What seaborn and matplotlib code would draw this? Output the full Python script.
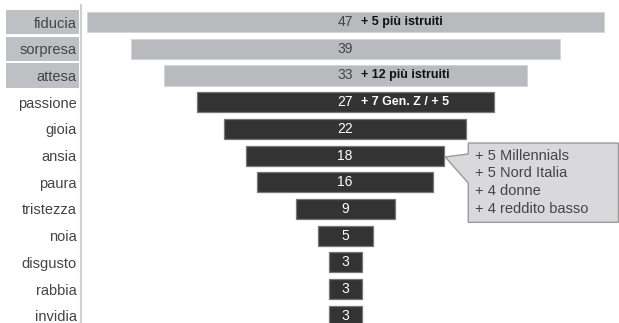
import matplotlib
matplotlib.use("Agg")
import matplotlib.pyplot as plt
import matplotlib.transforms as mtransforms
from matplotlib.patches import Rectangle, Polygon
import seaborn as sns
import pandas as pd

# Emotions and their share (%)
emotions = ["fiducia", "sorpresa", "attesa", "passione", "gioia", "ansia",
            "paura", "tristezza", "noia", "disgusto", "rabbia", "invidia"]
values = [47, 39, 33, 27, 22, 18, 16, 9, 5, 3, 3, 3]
highlighted = ["fiducia", "sorpresa", "attesa"]

# Extra notes written next to some values
notes = {"fiducia": "+ 5 più istruiti",
         "attesa": "+ 12 più istruiti",
         "passione": "+ 7 Gen. Z / + 5"}
callout_lines = ["+ 5 Millennials", "+ 5 Nord Italia", "+ 4 donne", "+ 4 reddito basso"]
callout_target = "ansia"

LIGHT = "#b9babe"
DARK = "#333333"
TEXT = "#444444"

df = pd.DataFrame({"emozione": emotions, "valore": values})
colors = [LIGHT if e in highlighted else DARK for e in emotions]

sns.set_theme(style="white")
plt.rcParams["font.family"] = ["Liberation Sans", "DejaVu Sans"]

W, H = 619, 323
fig = plt.figure(figsize=(W / 100, H / 100), dpi=100)
ax = fig.add_axes([81 / W, 0, 1 - 81 / W, 1 - 5 / H])

sns.barplot(data=df, x="valore", y="emozione", hue="emozione",
            palette=colors, orient="h", width=0.75, legend=False,
            saturation=1, ax=ax)

# centre every bar on zero to form the funnel
for patch, e in zip(ax.patches, emotions):
    w = patch.get_width()
    patch.set_x(-w / 2)
    if e in highlighted:
        patch.set_edgecolor("#d4d4d8")
        patch.set_linewidth(0.6)
    else:
        patch.set_edgecolor("#777777")
        patch.set_linewidth(0.9)

ax.set_xlim(-24, 24.9)
ax.set_ylim(11.27, -0.64)
ax.set_xlabel("")
ax.set_ylabel("")
ax.set_xticks([])
ax.tick_params(axis="y", length=0, pad=3, labelsize=10.5, labelcolor=TEXT)

for s in ["top", "right", "bottom"]:
    ax.spines[s].set_visible(False)
ax.spines["left"].set_color("#d0d0d0")
ax.spines["left"].set_linewidth(1.5)

# value labels and notes
for i, (e, v) in enumerate(zip(emotions, values)):
    c = TEXT if e in highlighted else "white"
    ax.text(0, i, str(v), ha="center", va="center", fontsize=10, color=c)
    if e in notes:
        nc = "#111111" if e in highlighted else "white"
        ax.annotate(notes[e], xy=(0, i), xytext=(11.5, 0), textcoords="offset points",
                    ha="left", va="center", fontsize=9, fontweight="bold", color=nc)

# grey boxes behind the highlighted category labels
blend = mtransforms.blended_transform_factory(fig.transFigure, ax.transData)
for e in highlighted:
    i = emotions.index(e)
    ax.add_patch(Rectangle((6 / W, i - 0.46), 73 / W, 0.92, transform=blend,
                           facecolor="#bfc0c4", edgecolor="none", clip_on=False,
                           zorder=0))

# callout box attached to the target bar
ti = emotions.index(callout_target)
tv = values[ti]
tip = (tv / 2 + 0.1, ti + 0.05)
bx0, bx1 = 11.2, 24.85
by0, by1 = ti - 0.47, ti + 2.5
shape = [tip, (bx0, ti - 0.06), (bx0, by0), (bx1, by0), (bx1, by1),
         (bx0, by1), (bx0, ti + 1.03)]
ax.add_patch(Polygon(shape, closed=True, facecolor="#d9d9db", edgecolor="#9a9a9a",
                     linewidth=1.0, zorder=3, clip_on=False))
for k, line in enumerate(callout_lines):
    ax.text(bx0 + 0.65, ti + k * 0.67, line, ha="left", va="center",
            fontsize=10.5, color=TEXT, zorder=4)

fig.savefig("out.png", dpi=100)
